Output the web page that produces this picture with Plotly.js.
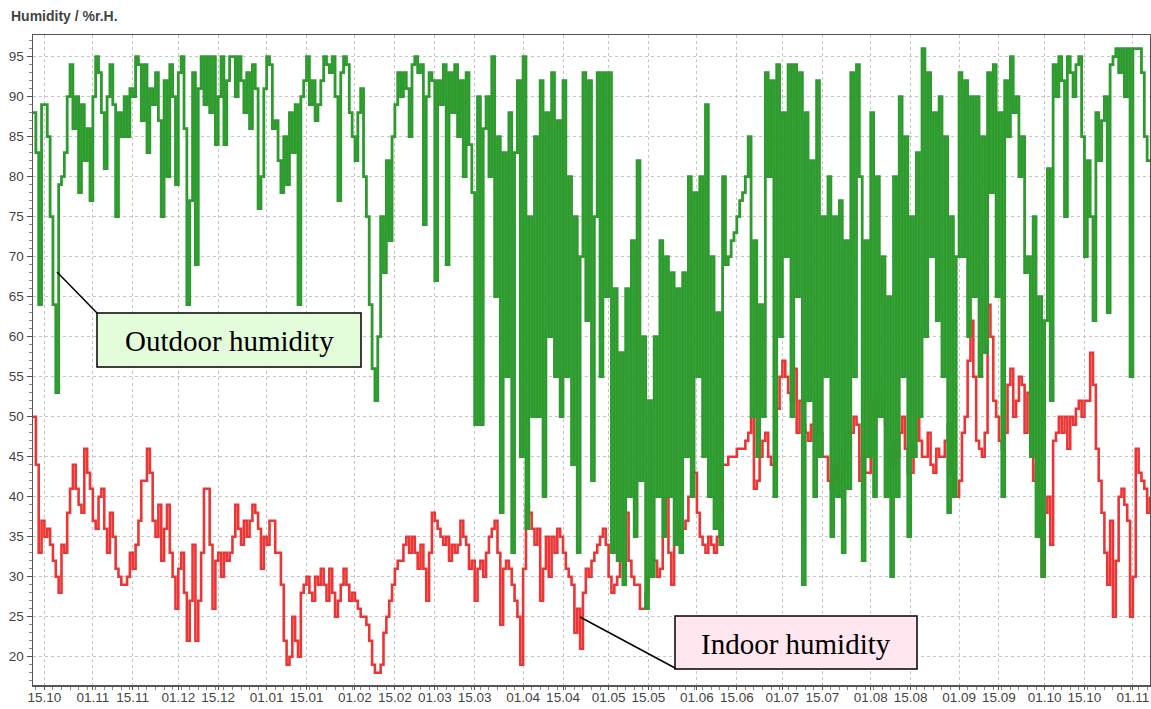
<!DOCTYPE html>
<html>
<head>
<meta charset="utf-8">
<script src="https://cdn.plot.ly/plotly-3.0.1.min.js"></script>
<style>
  html, body { margin: 0; padding: 0; background: #ffffff; }
  #chart { width: 1151px; height: 709px; }
</style>
</head>
<body>
<div id="chart"></div>
<script>
// ---- Data (daily readings, first day = 11.10) ----
const startDate = "2012-10-11";

const outdoorHumidity = [
  88,83,64,89,89,85,75,64,53,79,80,83,90,94,86,90,78,89,82,86,77,
  90,95,93,88,81,90,94,89,75,88,85,90,85,91,90,95,94,87,94,83,91,89,93,87,75,92,80,94,90,79,93,95,86,64,77,93,69,91,95,89,95,88,95,84,90,95,84,
  92,95,95,90,95,92,88,93,86,94,91,76,80,91,95,94,86,87,82,78,85,79,88,83,89,64,
  90,92,95,89,92,87,89,92,95,94,93,95,90,77,93,95,94,88,85,82,88,91,80,75,64,56,52,60,75,68,82,72,85,89,93,90,93,91,85,94,95,93,94,
  74,90,93,92,67,92,89,94,69,93,88,94,85,92,80,93,84,78,49,90,49,86,90,80,95,65,85,38,83,55,88,33,83,92,45,95,36,75,50,85,50,92,40,88,60,93,55,87,50,92,55,80,44,75,33,70,93,62,92,42,75,93,55,93,65,93,
  33,66,32,58,29,66,40,72,35,82,42,60,26,52,30,60,40,72,35,70,40,68,34,66,33,68,45,80,40,78,55,80,45,89,40,70,36,63,34,80,
  69,70,72,73,75,77,78,80,
  85,50,72,45,64,50,93,80,92,40,94,60,88,70,94,50,94,65,93,29,88,52,82,40,92,45,75,55,80,35,75,40,77,33,72,41,93,55,94,
  80,32,72,45,88,40,80,50,70,40,65,30,80,40,90,55,85,35,75,45,83,50,96,60,93,70,88,62,90,55,85,38,75,40,70,93,70,92,60,90,
  65,90,55,85,58,93,78,94,65,88,40,92,85,95,88,90,80,85,68,70,45,75,35,65,30,62,81,52,94,90,95,92,75,95,93,90,94,95,85,70,
  82,75,62,88,82,87,90,63,94,95,96,93,96,90,96,55,96,96,96,93,85,82,82
];

const indoorHumidity = [
  50,44,33,37,35,36,34,32,30,28, 34,33,38,41,44,41,39,38,46,43,
  41,37,36,40,41,36,33,38,35,31, 30,29,29,30,33,31,34,37,42,42,
  46,43,37,35,39,32,36,39,33,30, 26,31,33,28,22,27,34,22,27,33,
  41,41,34,26,32,33,30,33,32,33, 35,39,36,34,37,35,37,39,38,36,
  31,35,34,37,37,33,33,29,22,19, 20,25,22,20,
  28,29,30,28,27,30,29,31,29,27, 31,28,25,27,29,31,29,27,28,27,
  26,25,25,24,22,19,18,18,19,23, 25,27,29,31,32,32,34,35,33,35,
  33,31,34,31,27,33,38,37,36,35, 34,35,32,34,33,34,37,35,34,31,
  32,27,31,32,30,33,35,36,37,33, 24,31,32,31,29,27,25,19,31,39,
  38,36,34,36,27,31,35,30,35,33, 36,35,33,31,30,29,23,26,21,28,
  31,30,32,33,34,35,36,34,30,28, 29,30,33,35,38,32,30,29,29,26,
  26,28,30,32,32,30,31,35,40,33, 29,34,37,35,36,37,40,43,43,38,
  35,34,33,35,34,33,35,38,44,
  44,45,45,45,46,46,46,47,48,50, 41,42,45,47,48,45,44,44,51,55,
  57,55,53,52,56,48,52,49,48,47, 49,47,52,48,45,45,42,41,44,42,
  42,43,46,48,48,50,49,42,45,43, 43,52,50,53,52,50,49,46,44,47,
  45,48,50,46,43,43,47,50,47,45, 45,48,44,43,46,45,45,47,49,43,
  40,40,42,48,50,57,62,55,47,46, 45,48,64,60,52,50,47,46,48,54,
  56,50,52,55,54,48,53,45,42,44, 37,30,38,40,34,47,48,50,48,50,
  46,50,49,51,52,50,52,52,58,54, 46,42,38,33,29,37,25,32,40,41,
  39,37,25,30,46,43,42,41,38,40
];

const tickDates = [
  "2012-10-15","2012-11-01","2012-11-15","2012-12-01","2012-12-15",
  "2013-01-01","2013-01-15","2013-02-01","2013-02-15","2013-03-01",
  "2013-03-15","2013-04-01","2013-04-15","2013-05-01","2013-05-15",
  "2013-06-01","2013-06-15","2013-07-01","2013-07-15","2013-08-01",
  "2013-08-15","2013-09-01","2013-09-15","2013-10-01","2013-10-15","2013-11-01"
];
const tickLabels = [
  "15.10","01.11","15.11","01.12","15.12","01.01","15.01","01.02","15.02","01.03",
  "15.03","01.04","15.04","01.05","15.05","01.06","15.06","01.07","15.07","01.08",
  "15.08","01.09","15.09","01.10","15.10","01.11"
];

// ---- build the date axis values from the start day ----
function dayDates(n) {
  const t0 = Date.parse(startDate + "T00:00:00Z");
  const out = [];
  for (let i = 0; i < n; i++) {
    out.push(new Date(t0 + i * 86400000).toISOString().slice(0, 10));
  }
  return out;
}
const xOut = dayDates(outdoorHumidity.length);
const xIn = dayDates(indoorHumidity.length);

const traces = [
  {
    x: xIn, y: indoorHumidity, type: "scatter", mode: "lines",
    line: { color: "#ec3535", width: 2.6, shape: "hv" },
    name: "Indoor humidity", hoverinfo: "skip"
  },
  {
    x: xOut, y: outdoorHumidity, type: "scatter", mode: "lines",
    line: { color: "#2e9b2e", width: 2.8, shape: "hv" },
    name: "Outdoor humidity", hoverinfo: "skip"
  }
];

// ---- plot box in pixels (for callouts) ----
const W = 1151, H = 709;
const M = { l: 33, r: 1, t: 35, b: 24 };
const pw = W - M.l - M.r, ph = H - M.t - M.b;
const px = v => (v - M.l) / pw;
const py = v => (H - M.b - v) / ph;

const calloutFont = { family: "Liberation Serif, Times New Roman, serif", size: 29, color: "#000" };

const shapes = [
  { type: "rect", xref: "paper", yref: "paper", x0: px(97), x1: px(361), y0: py(367), y1: py(313),
    fillcolor: "#e3fcd9", line: { color: "#000", width: 1.5 }, layer: "above" },
  { type: "line", xref: "paper", yref: "paper", x0: px(57), y0: py(272), x1: px(97), y1: py(313),
    line: { color: "#000", width: 1.5 } },
  { type: "rect", xref: "paper", yref: "paper", x0: px(675), x1: px(917), y0: py(669), y1: py(616),
    fillcolor: "#ffe6ef", line: { color: "#000", width: 1.5 }, layer: "above" },
  { type: "line", xref: "paper", yref: "paper", x0: px(580), y0: py(617), x1: px(675), y1: py(668),
    line: { color: "#000", width: 1.5 } }
];

const annotations = [
  { text: "Outdoor humidity", xref: "paper", yref: "paper", x: px(229), y: py(341),
    xanchor: "center", yanchor: "middle", showarrow: false, font: calloutFont },
  { text: "Indoor humidity", xref: "paper", yref: "paper", x: px(796), y: py(644),
    xanchor: "center", yanchor: "middle", showarrow: false, font: calloutFont }
];

const tickFont = { family: "Liberation Sans, Arial, sans-serif", size: 13.5, color: "#444" };

const layout = {
  width: W, height: H,
  margin: M,
  paper_bgcolor: "#ffffff", plot_bgcolor: "#ffffff",
  showlegend: false,
  title: {
    text: "<b>Humidity / %r.H.</b>",
    x: 11 / W, xanchor: "left", xref: "container",
    y: 1 - 16 / H, yanchor: "middle", yref: "container",
    font: { family: "Liberation Sans, Arial, sans-serif", size: 14, color: "#444" }
  },
  xaxis: {
    type: "date",
    range: ["2012-10-11", "2013-11-07"],
    tickmode: "array", tickvals: tickDates, ticktext: tickLabels,
    ticks: "outside", ticklen: 3, tickcolor: "#555", tickwidth: 1,
    ticklabelstandoff: -4,
    showgrid: true, gridcolor: "#c6c6c6", griddash: "dot", gridwidth: 1,
    showline: true, linecolor: "#555", linewidth: 1.5, mirror: true,
    zeroline: false, tickfont: tickFont,
    minor: { ticks: "outside", ticklen: 3, tickcolor: "#888", dtick: 3 * 86400000, tick0: "2012-10-15", showgrid: false }
  },
  yaxis: {
    range: [16.46, 97.71],
    tickmode: "linear", tick0: 0, dtick: 5,
    ticks: "outside", ticklen: 5, tickcolor: "#555", tickwidth: 1,
    showgrid: true, gridcolor: "#c6c6c6", griddash: "dot", gridwidth: 1,
    showline: true, linecolor: "#555", linewidth: 1.5, mirror: true,
    zeroline: false, tickfont: tickFont,
    minor: { ticks: "outside", ticklen: 3, tickcolor: "#888", dtick: 1, showgrid: false }
  },
  shapes: shapes,
  annotations: annotations
};

Plotly.newPlot("chart", traces, layout, { staticPlot: true, displayModeBar: false });
</script>
</body>
</html>
